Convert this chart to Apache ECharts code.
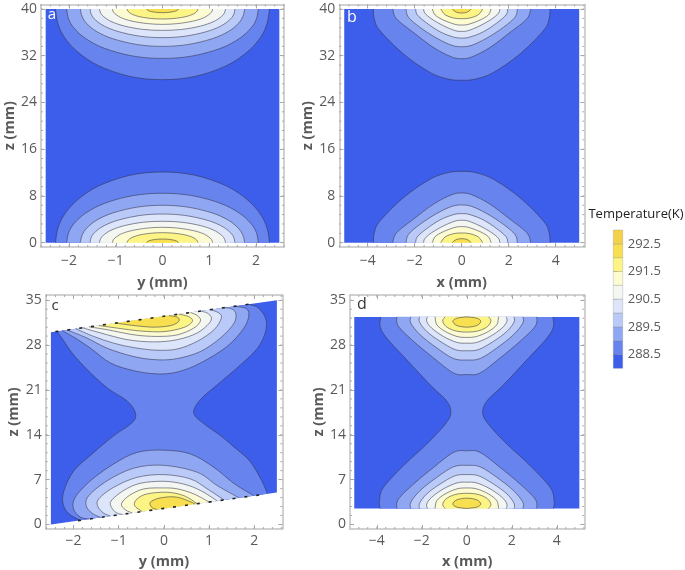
<!DOCTYPE html>
<html><head><meta charset="utf-8">
<style>html,body{margin:0;padding:0;background:#fff}#c{width:685px;height:570px}</style>
<script src="https://cdn.jsdelivr.net/npm/echarts@6/dist/echarts.min.js"></script>
</head><body><div id="c"></div>
<script>
// ---------- legend ----------
const legendTitle = 'Temperature(K)';
const legendEdges = [288, 288.5, 289, 289.5, 290, 290.5, 291, 291.5, 292, 292.5, 293];
const legendTicks = [288.5, 289.5, 290.5, 291.5, 292.5];
const bandColors = ['#3d5eea', '#6683ee', '#8fa6f3', '#b9c9f8', '#dde5fa', '#f4f6f1', '#fdfbd2', '#fdf486', '#f7df50', '#f3d24a'];

// ---------- tick labels ----------
const ticksY = [-2, -1, 0, 1, 2];
const ticksX = [-4, -2, 0, 2, 4];
const ticksZab = [0, 8, 16, 24, 32, 40];
const ticksZcd = [0, 7, 14, 21, 28, 35];

// ---------- panel a: half contours [y, z], peak at y=0 to the z=0 edge ----------
const halfA = [
  [[0,12.1],[.69,11.55],[1.37,9.7],[1.83,7.25],[2.11,4.7],[2.24,2.4],[2.29,0]],
  [[0,8.46],[.62,8.07],[1.23,6.77],[1.64,5.08],[1.89,3.3],[2.01,1.7],[2.05,0]],
  [[0,6.4],[.53,6.1],[1.06,5.1],[1.41,3.85],[1.62,2.5],[1.72,1.28],[1.76,0]],
  [[0,4.9],[.47,4.67],[.93,3.9],[1.24,2.95],[1.43,1.9],[1.52,1],[1.55,0]],
  [[0,3.66],[.41,3.5],[.81,2.93],[1.08,2.2],[1.24,1.43],[1.32,.73],[1.35,0]],
  [[0,2.63],[.32,2.5],[.64,2.1],[.86,1.58],[.98,1.03],[1.05,.53],[1.07,0]],
  [[0,1.71],[.23,1.63],[.46,1.37],[.61,1.03],[.7,.67],[.74,.34],[.76,0]],
  [[0,.63],[.1,.6],[.2,.5],[.27,.38],[.31,.25],[.33,.13],[.34,0]]
];
// ---------- panel b ----------
const halfB = [
  [[0,12.2],[.57,12.0],[1.35,10.86],[2.48,7.7],[3.48,3.7],[3.72,1.7],[3.76,0]],
  [[0,8.5],[.43,8.2],[1.2,6.6],[2.06,4],[2.77,1.7],[2.94,0]],
  [[0,6.46],[.43,6.2],[1.06,5.0],[1.77,3.15],[2.27,1.4],[2.37,0]],
  [[0,4.97],[.35,4.8],[.92,3.9],[1.49,2.4],[1.89,1.0],[1.96,0]],
  [[0,3.83],[.28,3.7],[.78,2.86],[1.28,1.7],[1.57,.7],[1.62,0]],
  [[0,2.74],[.28,2.63],[.78,1.89],[1.13,1.03],[1.25,0]],
  [[0,1.66],[.35,1.54],[.71,.97],[.89,0]],
  [[0,.69],[.21,.57],[.35,.23],[.4,0]]
];
// ---------- panel c: full curves [y, z] ----------
const cOuterLeft = [[-2.36,30.13],[-2.21,28.6],[-2.03,26.76],[-1.7,24.2],[-1.25,21.3],[-.81,19.25],[-.63,17.4],[-.7,15.9],[-1.11,13.84],[-1.55,11.25],[-1.99,8.4],[-2.21,5.29],[-2.23,3.2],[-2.1,1.66],[-1.85,.65]];
const cOuterRight = [[2.29,4.79],[2.16,6.9],[1.9,9.9],[1.55,12.1],[1.25,13.9],[.9,15.65],[.66,17.4],[.81,19.5],[1.18,21.8],[1.7,24.95],[2.07,27.5],[2.25,30.1],[2.25,32.2],[2.07,33.9],[1.85,34.35]];
const cTop = [
  [[-2.25,30.25],[-1.96,29.1],[-1.62,27.5],[-1.18,25.2],[-.66,24.0],[-.15,23.5],[.3,23.8],[.81,25.2],[1.4,27.8],[1.77,30.65],[1.88,32.7],[1.81,33.75],[1.55,34.05]],
  [[-2.14,30.36],[-1.7,29.1],[-1.25,27.5],[-.66,26.2],[-.15,25.7],[.3,25.9],[.81,27.0],[1.25,29.1],[1.55,31.4],[1.59,33],[1.48,33.7],[1.33,33.83]],
  [[-1.95,30.55],[-1.55,29.35],[-1.11,28.3],[-.66,27.6],[-.15,27.2],[.3,27.4],[.74,28.6],[1.11,30.4],[1.27,32.2],[1.22,33],[1.03,33.53]],
  [[-1.8,30.7],[-1.4,29.9],[-.81,28.85],[-.22,28.5],[.3,28.85],[.74,29.9],[1.0,31.4],[1.05,32.3],[.96,33],[.81,33.31]],
  [[-1.65,30.85],[-1.25,30.4],[-.66,29.6],[-.15,29.35],[.3,29.6],[.66,30.65],[.81,31.8],[.74,32.6],[.59,33.09]],
  [[-1.44,31.06],[-1.03,30.65],[-.52,30.2],[0,30.1],[.44,30.75],[.63,31.7],[.55,32.45],[.33,32.83]],
  [[-1.07,31.43],[-.66,31.05],[-.22,30.8],[.15,31.05],[.33,31.7],[.3,32.35],[.11,32.61]]
];
const cBottom = [
  [[1.99,4.49],[1.55,6.4],[1.11,8.9],[.59,11.0],[0,11.6],[-.59,11.25],[-1.11,9.45],[-1.62,6.85],[-1.96,4.25],[-2.0,2.45],[-1.85,1.15],[-1.65,.85]],
  [[1.66,4.16],[1.18,6.07],[.74,8.14],[0,9.23],[-.66,8.8],[-1.25,6.84],[-1.66,4.5],[-1.72,2.95],[-1.59,1.76],[-1.4,1.1]],
  [[1.33,3.83],[.96,5.55],[.59,7.1],[0,7.78],[-.59,7.36],[-1.11,5.8],[-1.44,4.0],[-1.46,2.8],[-1.33,1.76],[-1.18,1.32]],
  [[1.18,3.68],[.81,5.3],[.44,6.3],[0,6.74],[-.52,6.43],[-.89,5.3],[-1.17,3.63],[-1.14,2.44],[-1.03,1.76],[-.92,1.58]],
  [[1.0,3.5],[.66,4.77],[.3,5.55],[0,5.7],[-.44,5.55],[-.77,4.5],[-.94,3.2],[-.85,2.28],[-.7,1.8]],
  [[.74,3.24],[.44,4.5],[.07,5.03],[-.37,4.77],[-.59,4],[-.65,2.95],[-.48,2.02]],
  [[.7,3.2],[.3,4.25],[-.07,4.15],[-.3,3.47],[-.26,2.6],[-.15,2.35]]
];
// ---------- panel d ----------
const dOuterLeft = [[-3.82,32.4],[-3.85,30.9],[-3.56,29.1],[-2.67,25.7],[-1.63,21.8],[-.89,19.25],[-.71,17.4],[-.96,15.65],[-1.78,12.55],[-2.81,9.2],[-3.7,5.8],[-3.88,3.73],[-3.85,2.49]];
const halfD = [
  [[0,11.5],[.59,11.25],[1.48,8.9],[2.37,6.3],[3.04,3.95],[3.11,2.49]],
  [[0,9.23],[.59,9.0],[1.33,7.36],[2.07,5.3],[2.49,3.47],[2.49,2.49]],
  [[0,7.78],[.52,7.6],[1.19,6.3],[1.78,4.77],[2.1,3.3],[2.1,2.49]],
  [[0,6.6],[.44,6.48],[1.04,5.55],[1.56,4.25],[1.78,3.2],[1.75,2.49]],
  [[0,5.7],[.44,5.55],[.96,4.77],[1.33,3.73],[1.41,2.49]],
  [[0,4.87],[.52,4.67],[.92,4],[1.07,3.1],[.96,2.49]],
  [[0,4.1],[.44,3.85],[.62,3.2],[.44,2.7],[0,2.49]]
];
// ---------- regions ----------
const regionA = [[-2.5,0],[2.5,0],[2.5,40],[-2.5,40]];
const regionB = [[-5,0],[5,0],[5,40],[-5,40]];
const regionC = [[-2.5,0],[2.5,5],[2.5,35],[-2.5,30]];
const regionD = [[-5,2.5],[5,2.5],[5,32.4],[-5,32.4]];
const edgeMarksC = [[[-2.4,30.1],[2.05,34.55]], [[-1.9,.6],[2.3,4.8]]];

// helpers derived from the readings above
const mirrorX = h => h.slice(h[0][0] === 0 ? 1 : 0).map(p => [-p[0], p[1]]).reverse().concat(h);
const flipZ = (c, s) => c.map(p => [p[0], s - p[1]]);
function symmetric(halves, sum) {
  const out = [];
  halves.forEach((h, i) => {
    const full = mirrorX(h);
    out.push({band: i + 1, curves: [full]});
    out.push({band: i + 1, curves: [flipZ(full, sum)]});
  });
  return out;
}
const rightOf = c => c.map(p => [-p[0], p[1]]).reverse();

const contoursA = [{band: 0, region: true, curves: [regionA]}].concat(symmetric(halfA, 40));
const contoursB = [{band: 0, region: true, curves: [regionB]}].concat(symmetric(halfB, 40));
const contoursC = [{band: 0, region: true, curves: [regionC]}, {band: 1, curves: [cOuterLeft, cOuterRight]}];
cTop.forEach((c, i) => contoursC.push({band: i + 2, curves: [c]}));
cBottom.forEach((c, i) => contoursC.push({band: i + 2, curves: [c]}));
const contoursD = [{band: 0, region: true, curves: [regionD]}, {band: 1, curves: [dOuterLeft, rightOf(dOuterLeft)]}]
  .concat(symmetric(halfD, 34.9).map(c => ({band: c.band + 1, curves: c.curves})));

// path from data-space curve, through the axes' scale
function curvePath(pts, start) {
  let d = (start ? 'M' : 'L') + pts[0][0].toFixed(2) + ' ' + pts[0][1].toFixed(2);
  for (let i = 0; i < pts.length - 1; i++) {
    const p0 = pts[Math.max(i - 1, 0)], p1 = pts[i], p2 = pts[i + 1], p3 = pts[Math.min(i + 2, pts.length - 1)];
    const c1 = [p1[0] + (p2[0] - p0[0]) / 6, p1[1] + (p2[1] - p0[1]) / 6];
    const c2 = [p2[0] - (p3[0] - p1[0]) / 6, p2[1] - (p3[1] - p1[1]) / 6];
    d += ' C' + [c1[0], c1[1], c2[0], c2[1], p2[0], p2[1]].map(v => v.toFixed(2)).join(' ');
  }
  return d;
}
function contourSeries(axisIdx, contours) {
  return {
    type: 'custom', xAxisIndex: axisIdx, yAxisIndex: axisIdx, clip: false, silent: true,
    data: contours.map(c => c.curves[0][0]),
    renderItem(params, api) {
      const c = contours[params.dataIndex];
      const pix = c.curves.map(cv => cv.map(p => api.coord(p)));
      if (c.region) {
        return {type: 'polygon', shape: {points: pix[0]}, style: {fill: bandColors[0], stroke: null}};
      }
      const fillD = pix.map((p, i) => curvePath(p, i === 0)).join(' ') + ' Z';
      const lineD = pix.map(p => curvePath(p, true)).join(' ');
      return {type: 'group', children: [
        {type: 'path', shape: {pathData: fillD}, style: {fill: bandColors[c.band], stroke: null}},
        {type: 'path', shape: {pathData: lineD}, style: {fill: 'none', stroke: 'rgba(50,50,70,0.55)', lineWidth: 1}}
      ]};
    }
  };
}
// short minor ticks on the frame
function minorSeries(axisIdx, dim, step, ext, other) {
  const vals = [];
  const n = Math.floor(ext[1] / step + 1e-6);
  for (let k = Math.ceil(ext[0] / step - 1e-6); k <= n; k++) vals.push(k * step);
  return {
    type: 'custom', xAxisIndex: axisIdx, yAxisIndex: axisIdx, clip: false, silent: true,
    data: vals.map(v => dim === 'x' ? [v, other[0]] : [other[0], v]),
    renderItem(params, api) {
      const v = vals[params.dataIndex];
      const a = api.coord(dim === 'x' ? [v, other[0]] : [other[0], v]);
      const b = api.coord(dim === 'x' ? [v, other[1]] : [other[1], v]);
      const len = 2;
      const seg = dim === 'x'
        ? [[a[0], a[1], a[0], a[1] - len], [b[0], b[1], b[0], b[1] + len]]
        : [[a[0], a[1], a[0] + len, a[1]], [b[0], b[1], b[0] - len, b[1]]];
      return {type: 'group', children: seg.map(s => ({type: 'line',
        shape: {x1: s[0], y1: s[1], x2: s[2], y2: s[3]}, style: {stroke: '#a8a8a8', lineWidth: 1}}))};
    }
  };
}

const panels = [
  {g: {left: 41, top: 4.5, width: 243, height: 242.5}, xr: [-2.6, 2.6], zr: [-.74, 40.77], xt: ticksY, zt: ticksZab, xn: 'y (mm)', c: contoursA, mx: .2, mz: 1.6, lm: 7, ng: 28},
  {g: {left: 339.3, top: 4.5, width: 245, height: 242.5}, xr: [-5.21, 5.217], zr: [-.74, 40.77], xt: ticksX, zt: ticksZab, xn: 'x (mm)', c: contoursB, mx: .4, mz: 1.6, lm: 7, ng: 28},
  {g: {left: 45.7, top: 295, width: 236.6, height: 235.3}, xr: [-2.615, 2.62], zr: [-.71, 35.82], xt: ticksY, zt: ticksZcd, xn: 'y (mm)', c: contoursC, mx: .2, mz: 1.4, lm: 5, ng: 25},
  {g: {left: 350, top: 295, width: 234.3, height: 235.3}, xr: [-5.19, 5.22], zr: [-.71, 35.82], xt: ticksX, zt: ticksZcd, xn: 'x (mm)', c: contoursD, mx: .4, mz: 1.4, lm: 5, ng: 25}
];
const fontFam = '"Open Sans", sans-serif';
const grey = '#5a5a5a';
const frame = {show: true, onZero: false, lineStyle: {color: '#c2c2c2', width: 1.5}};
const minus = v => String(v).replace('-', '\u2212');

const grid = [], xAxis = [], yAxis = [], series = [];
panels.forEach((p, i) => {
  grid.push(p.g);
  const base = i * 2;
  const tick = vals => ({show: true, inside: true, length: 4, customValues: vals, lineStyle: {color: '#a8a8a8', width: 1}});
  xAxis.push({type: 'value', gridIndex: i, position: 'bottom', min: p.xr[0], max: p.xr[1], splitLine: {show: false}, axisLine: frame,
    axisTick: tick(p.xt),
    axisLabel: {customValues: p.xt, formatter: minus, color: grey, fontFamily: fontFam, fontSize: 14, margin: p.lm},
    name: p.xn, nameLocation: 'middle', nameGap: p.ng, nameTextStyle: {color: grey, fontFamily: fontFam, fontSize: 14.5, fontWeight: 'bold'}});
  xAxis.push({type: 'value', gridIndex: i, position: 'top', min: p.xr[0], max: p.xr[1], splitLine: {show: false}, axisLine: frame,
    axisTick: tick(p.xt), axisLabel: {show: false}});
  yAxis.push({type: 'value', gridIndex: i, position: 'left', min: p.zr[0], max: p.zr[1], splitLine: {show: false}, axisLine: frame,
    axisTick: tick(p.zt),
    axisLabel: {customValues: p.zt, color: grey, fontFamily: fontFam, fontSize: 14, margin: 4},
    name: 'z (mm)', nameLocation: 'middle', nameGap: 22, nameTextStyle: {color: grey, fontFamily: fontFam, fontSize: 14.5, fontWeight: 'bold'}});
  yAxis.push({type: 'value', gridIndex: i, position: 'right', min: p.zr[0], max: p.zr[1], splitLine: {show: false}, axisLine: frame,
    axisTick: tick(p.zt), axisLabel: {show: false}});
  series.push(contourSeries(base, p.c));
  series.push(minorSeries(base, 'x', p.mx, p.xr, p.zr));
  series.push(minorSeries(base, 'z', p.mz, p.zr, p.xr));
});
edgeMarksC.forEach(seg => series.push({type: 'line', xAxisIndex: 4, yAxisIndex: 4, data: seg, symbol: 'none', silent: true, z: 5,
  lineStyle: {color: '#222', width: 1.6, type: [3, 9]}}));

// legend bar
grid.push({left: 613.3, top: 230, width: 9.4, height: 138.3});
xAxis.push({type: 'value', gridIndex: 4, min: 0, max: 1, show: false});
yAxis.push({type: 'value', gridIndex: 4, position: 'right', min: 288, max: 293, splitLine: {show: false},
  axisLine: {show: false},
  axisTick: {show: true, customValues: legendTicks, length: 4, lineStyle: {color: '#999', width: 1}},
  axisLabel: {customValues: legendTicks, formatter: v => v.toFixed(1), color: grey, fontFamily: fontFam, fontSize: 13, margin: 5}});
series.push({type: 'custom', xAxisIndex: 8, yAxisIndex: 8, clip: false, silent: true,
  data: legendEdges.slice(0, -1).map((e, i) => [0, e, legendEdges[i + 1]]),
  renderItem(params, api) {
    const a = api.coord([0, api.value(1)]), b = api.coord([1, api.value(2)]);
    return {type: 'rect', shape: {x: a[0], y: b[1], width: b[0] - a[0], height: a[1] - b[1]},
      style: {fill: bandColors[params.dataIndex], stroke: 'rgba(120,120,120,0.25)', lineWidth: 1}};
  }});

const panelText = (t, x, y, fill, size) => ({type: 'text', x, y, z: 20, silent: true,
  style: {text: t, fill, fontFamily: fontFam, fontSize: size, align: 'center', verticalAlign: 'middle'}});

echarts.init(document.getElementById('c'), null, {renderer: 'canvas'}).setOption({
  animation: false, backgroundColor: '#fff', grid, xAxis, yAxis, series,
  graphic: [
    panelText('a', 52, 15, '#ffffff', 15),
    panelText('b', 352, 17.5, '#ffffff', 16),
    panelText('c', 55, 306, '#333333', 15),
    panelText('d', 362, 304.5, '#333333', 16),
    panelText(legendTitle, 636, 214, '#222222', 13)
  ]
});
</script></body></html>
